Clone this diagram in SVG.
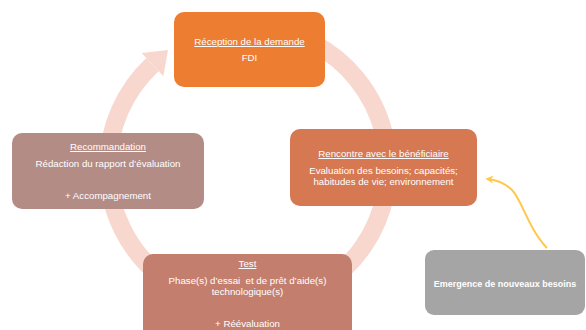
<svg xmlns="http://www.w3.org/2000/svg" width="586" height="330" viewBox="0 0 586 330">
  <defs>
    <style>
      .t { font-family: "Liberation Sans", Arial, sans-serif; font-size: 9.7px; fill: #ffffff; text-anchor: middle; }
      .u { text-decoration: underline; }
      .b { font-weight: bold; font-size: 9px; }
      .pre { white-space: pre; }
      .band { fill: none; stroke: #F8D8CE; stroke-width: 18; }
    </style>
    <marker id="ah" viewBox="0 0 10 10" refX="8" refY="5" markerWidth="4" markerHeight="4" orient="auto" markerUnits="strokeWidth">
      <path d="M0,0 L10,5 L0,10 L3,5 Z" fill="#FFC84B"/>
    </marker>
  </defs>
  <rect width="586" height="330" fill="#ffffff"/>

  <g id="cycle">
    <path class="band" d="M313.7,43.4 A140,140 0 1 1 152.5,64.6"/>
    <polygon points="141.6,52.9 168,50 163.4,76.3" fill="#F8D8CE"/>
  </g>

  <g id="connectors">
    <path d="M547,248 C528,228 522,200 512,190 C505,183 498,180 487,179" fill="none" stroke="#FFC84B" stroke-width="2" marker-end="url(#ah)"/>
  </g>

  <g id="reception">
    <rect x="174" y="12" width="151" height="75" rx="10" fill="#ED7D31"/>
    <text class="t u" x="249.5" y="45">Réception de la demande</text>
    <text class="t" x="249.5" y="61">FDI</text>
  </g>

  <g id="rencontre">
    <rect x="290" y="129" width="187" height="77" rx="10" fill="#D67852"/>
    <text class="t u" x="383.5" y="157">Rencontre avec le bénéficiaire</text>
    <text class="t" x="383.5" y="173.5">Evaluation des besoins; capacités;</text>
    <text class="t" x="383.5" y="185">habitudes de vie; environnement</text>
  </g>

  <g id="recommandation">
    <rect x="12" y="133" width="192" height="76" rx="10" fill="#B48C86"/>
    <text class="t u" x="108" y="150">Recommandation</text>
    <text class="t" x="108" y="166.5">Rédaction du rapport d’évaluation</text>
    <text class="t" x="108" y="198.5">+ Accompagnement</text>
  </g>

  <g id="test">
    <rect x="143" y="254" width="209" height="90" rx="10" fill="#C47E6E"/>
    <text class="t u" x="247.5" y="267">Test</text>
    <text class="t pre" x="247.5" y="283.5">Phase(s) d’essai  et de prêt d’aide(s)</text>
    <text class="t" x="247.5" y="295">technologique(s)</text>
    <text class="t" x="247.5" y="327">+ Réévaluation</text>
  </g>

  <g id="emergence">
    <rect x="425" y="250" width="160" height="65" rx="9" fill="#A5A5A5"/>
    <text class="t b" x="505" y="286.5">Emergence de nouveaux besoins</text>
  </g>
</svg>
